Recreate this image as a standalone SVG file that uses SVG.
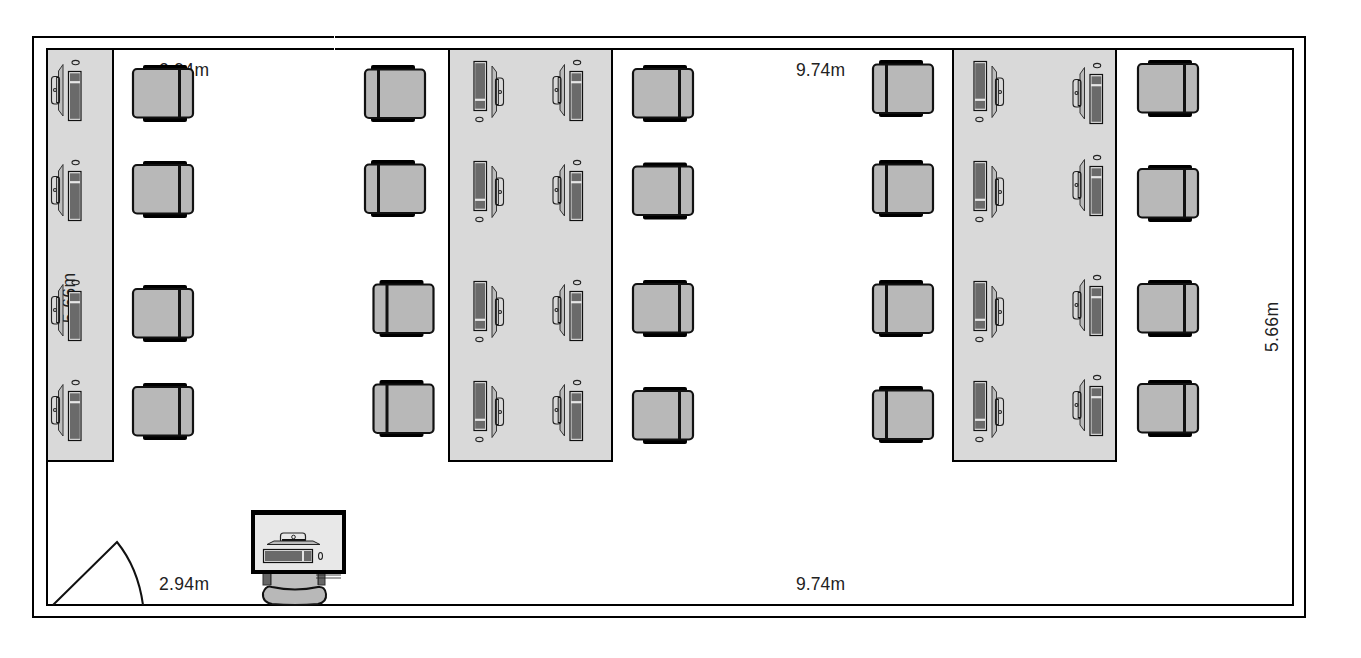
<svg xmlns="http://www.w3.org/2000/svg" xmlns:xlink="http://www.w3.org/1999/xlink" width="1361" height="658" viewBox="0 0 1361 658">
<style>
.wall{fill:none;stroke:#000;stroke-width:2}
.bench{fill:#d9d9d9;stroke:#000;stroke-width:2}
.lbl{font-family:"Liberation Sans",Arial,sans-serif;font-size:17.500px;fill:#222}
.t{fill:#e6e6e6;stroke:#111;stroke-width:1.200}
.td{fill:#6a6a6a}
.o{fill:none;stroke:#222;stroke-width:1.100}
.p{fill:#bcbcbc;stroke:#333;stroke-width:1}
.s{fill:#b8b8b8;stroke:#111;stroke-width:2.200}
.b{fill:#000}
</style>
<defs>
<g id="pc">
<ellipse class="o" cx="7.600" cy="-8.400" rx="3.600" ry="2.200"/>
<path class="p" d="M-5 -6.500V45L-9.500 39L-9.500 0Z"/>
<rect class="o" x="-16.500" y="5.500" width="8" height="27.500" rx="3"/>
<rect x="-11.300" y="6.500" width="2" height="25" fill="#efefef" stroke="#111" stroke-width="1"/>
<circle class="o" cx="-13" cy="19" r="1.500"/>
<rect class="t" x=".5" y=".5" width="12.500" height="49"/>
<rect class="td" x="2" y="2.300" width="9.800" height="7.800"/>
<rect class="td" x="2" y="12.300" width="9.800" height="35.500"/>
</g>
<g id="chair">
<rect class="b" x="10" y="-4" width="44" height="6" rx="2"/>
<rect class="b" x="10" y="47" width="44" height="6" rx="2"/>
<rect class="s" x="0" y="0" width="60" height="48.500" rx="4"/>
<path d="M46.500 0V48.500" stroke="#111" stroke-width="3"/>
</g>
</defs>
<g id="walls">
<rect class="wall" x="33" y="37" width="1272" height="580"/>
<rect class="wall" x="47" y="49" width="1246" height="556"/>
<path d="M334.500 35V51" stroke="#fff" stroke-width="1"/>
</g>
<g id="bench-1"><rect class="bench" x="47" y="49" width="66" height="412"/></g>
<g id="bench-2"><rect class="bench" x="449" y="49" width="163" height="412"/></g>
<g id="bench-3"><rect class="bench" x="953" y="49" width="163" height="412"/></g>
<g id="labels">
<text class="lbl" x="159" y="76" textLength="50">2.94m</text>
<text class="lbl" x="796" y="76" textLength="49">9.74m</text>
<text class="lbl" x="159" y="590" textLength="50">2.94m</text>
<text class="lbl" x="796" y="590" textLength="49">9.74m</text>
<text class="lbl" transform="translate(1278 352) rotate(-90)" textLength="50">5.66m</text>
<text class="lbl" transform="translate(75 323) rotate(-90)" textLength="50">5.66m</text>
</g>
<g id="workstations">
<use href="#pc" x="68" y="71"/>
<use href="#pc" x="68" y="171"/>
<use href="#pc" x="68" y="291"/>
<use href="#pc" x="68" y="391"/>
<use href="#pc" transform="translate(487 111) rotate(180)"/>
<use href="#pc" transform="translate(487 211) rotate(180)"/>
<use href="#pc" transform="translate(487 331) rotate(180)"/>
<use href="#pc" transform="translate(487 431) rotate(180)"/>
<use href="#pc" x="569.500" y="71"/>
<use href="#pc" x="569.500" y="171"/>
<use href="#pc" x="569.500" y="291"/>
<use href="#pc" x="569.500" y="391"/>
<use href="#pc" transform="translate(987 111) rotate(180)"/>
<use href="#pc" transform="translate(987 211) rotate(180)"/>
<use href="#pc" transform="translate(987 331) rotate(180)"/>
<use href="#pc" transform="translate(987 431) rotate(180)"/>
<use href="#pc" x="1089.500" y="74"/>
<use href="#pc" x="1089.500" y="166"/>
<use href="#pc" x="1089.500" y="286"/>
<use href="#pc" x="1089.500" y="386"/>
</g>
<g id="chairs">
<use href="#chair" x="133" y="69"/>
<use href="#chair" x="133" y="165"/>
<use href="#chair" x="133" y="289"/>
<use href="#chair" x="133" y="387"/>
<use href="#chair" transform="translate(425 118) rotate(180)"/>
<use href="#chair" transform="translate(425 213) rotate(180)"/>
<use href="#chair" transform="translate(433.500 333) rotate(180)"/>
<use href="#chair" transform="translate(433.500 433) rotate(180)"/>
<use href="#chair" x="633" y="69"/>
<use href="#chair" x="633" y="166.500"/>
<use href="#chair" x="633" y="284"/>
<use href="#chair" x="633" y="391"/>
<use href="#chair" transform="translate(933 113) rotate(180)"/>
<use href="#chair" transform="translate(933 213) rotate(180)"/>
<use href="#chair" transform="translate(933 333) rotate(180)"/>
<use href="#chair" transform="translate(933 439) rotate(180)"/>
<use href="#chair" x="1138" y="64"/>
<use href="#chair" x="1138" y="169"/>
<use href="#chair" x="1138" y="284"/>
<use href="#chair" x="1138" y="384"/>
</g>
<g id="door"><path d="M53 605L117 542Q138 568 143 605" fill="none" stroke="#111" stroke-width="2"/></g>
<g id="operator">
<rect x="263" y="572" width="8" height="13" fill="#666" stroke="#333"/>
<rect x="318" y="572" width="7" height="13" fill="#666" stroke="#333"/>
<path d="M271 573H318V590H271Z" fill="#bdbdbd"/>
<path d="M271 573V585M318 573V585" stroke="#222"/>
<path d="M263 593Q266 585 272 587Q295 592 318 587Q325 586 326 594Q327 602 318 604Q295 606 272 604Q262 602 263 593Z" fill="#b8b8b8" stroke="#111" stroke-width="2"/>
<path d="M316 575H341M316 578H341" stroke="#222" stroke-width=".8"/>
<rect x="253" y="512" width="91" height="60" fill="#e8e8e8" stroke="#000" stroke-width="4"/>
<path d="M251 512.500H345" stroke="#000" stroke-width="5"/>
<rect x="280.500" y="533" width="25" height="10" rx="3" fill="none" stroke="#222" stroke-width="1.200"/>
<rect x="282" y="539" width="23" height="3" fill="#111"/>
<circle cx="293.500" cy="537" r="1.800" fill="#eee" stroke="#222"/>
<path d="M267 544.500L274 541H313L320 544.500Z" fill="#bcbcbc" stroke="#222" stroke-width="1"/>
<rect class="t" x="263.500" y="549.500" width="49" height="13"/>
<rect class="td" x="265" y="551" width="37" height="10"/>
<rect class="td" x="304" y="551" width="7.500" height="10"/>
<ellipse class="o" cx="320.500" cy="556" rx="2" ry="3.500"/>
</g>
</svg>
